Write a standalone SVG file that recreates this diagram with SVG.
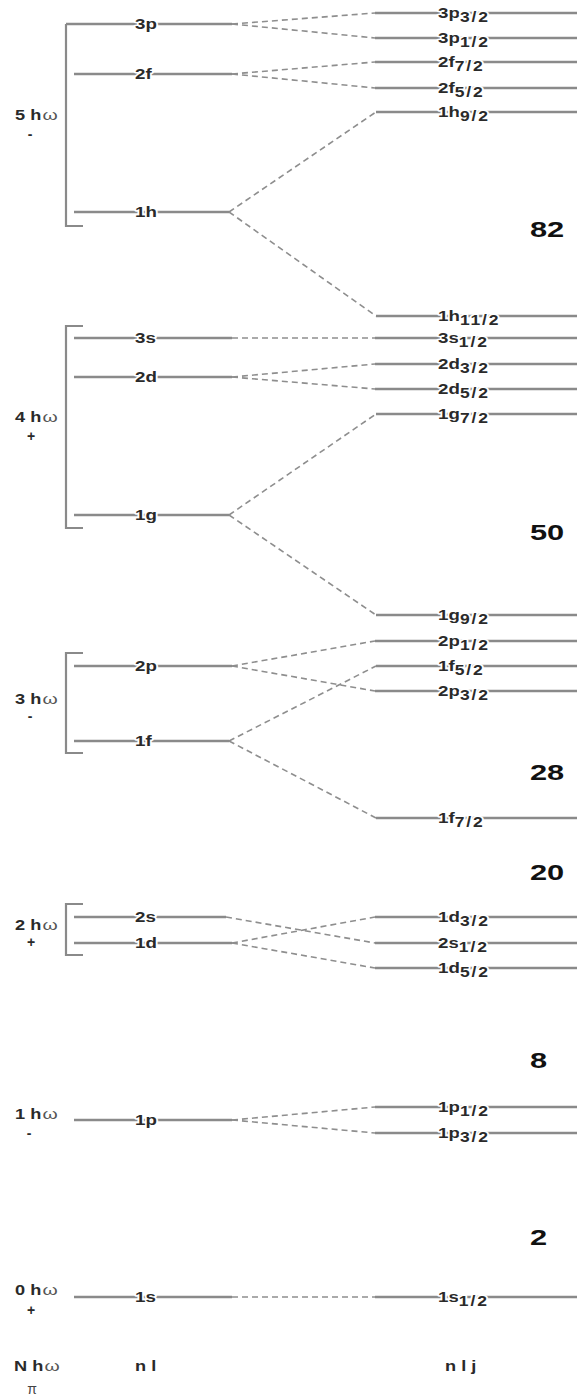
<svg xmlns="http://www.w3.org/2000/svg" width="577" height="1399" viewBox="0 0 577 1399">
<style>
.lvl{stroke:#8a8a8a;stroke-width:2.5;fill:none}
.br{stroke:#8a8a8a;stroke-width:2.2;fill:none}
.cn{stroke:#8e8e8e;stroke-width:1.6;stroke-dasharray:6 4;fill:none}
.lb{font-family:"Liberation Sans",Arial,sans-serif;font-weight:bold;font-size:15px;fill:#2a2a2a;stroke:#fff;stroke-width:3;paint-order:stroke;stroke-linejoin:round}
.sub{font-size:14px;letter-spacing:1.5px}
.gl{font-family:"Liberation Sans",Arial,sans-serif;font-weight:bold;font-size:14px;fill:#2a2a2a}
.om{font-weight:normal;font-size:15px;fill:#555}
.sg{font-family:"Liberation Sans",Arial,sans-serif;font-weight:bold;font-size:14px;fill:#2a2a2a;text-anchor:middle}
.pi{font-family:"Liberation Sans",Arial,sans-serif;font-weight:normal;font-size:14px;fill:#444;text-anchor:middle}
.mg{font-family:"Liberation Sans",Arial,sans-serif;font-weight:bold;font-size:22px;fill:#111}
</style>
<rect width="577" height="1399" fill="#fff"/>

<g id="connectors">
<line class="cn" x1="232" y1="24" x2="375" y2="13"/>
<line class="cn" x1="232" y1="24" x2="375" y2="38"/>
<line class="cn" x1="232" y1="74" x2="375" y2="62"/>
<line class="cn" x1="232" y1="74" x2="375" y2="88"/>
<line class="cn" x1="229" y1="212" x2="376" y2="112"/>
<line class="cn" x1="229" y1="212" x2="376" y2="316"/>
<line class="cn" x1="232" y1="338" x2="375" y2="338"/>
<line class="cn" x1="232" y1="377" x2="375" y2="364"/>
<line class="cn" x1="232" y1="377" x2="375" y2="389"/>
<line class="cn" x1="229" y1="515" x2="376" y2="414"/>
<line class="cn" x1="229" y1="515" x2="376" y2="615"/>
<line class="cn" x1="232" y1="666" x2="375" y2="641"/>
<line class="cn" x1="232" y1="666" x2="375" y2="691"/>
<line class="cn" x1="229" y1="741" x2="376" y2="666"/>
<line class="cn" x1="229" y1="741" x2="376" y2="818"/>
<line class="cn" x1="226" y1="917" x2="375" y2="943"/>
<line class="cn" x1="232" y1="943" x2="375" y2="917"/>
<line class="cn" x1="232" y1="943" x2="375" y2="968"/>
<line class="cn" x1="232" y1="1120" x2="375" y2="1107"/>
<line class="cn" x1="232" y1="1120" x2="375" y2="1133"/>
<line class="cn" x1="232" y1="1297" x2="375" y2="1297"/>
</g>

<g id="shell-5">
<path class="br" d="M66,24 V226 H83"/>
<text class="gl" transform="translate(15,120) scale(1.3,1)">5 h<tspan class="om" dx="1">ω</tspan></text>
<text class="sg" x="30" y="139">-</text>
</g>
<g id="shell-4">
<path class="br" d="M83,326 H66 V528 H83"/>
<text class="gl" transform="translate(15,422) scale(1.3,1)">4 h<tspan class="om" dx="1">ω</tspan></text>
<text class="sg" x="31" y="441">+</text>
</g>
<g id="shell-3">
<path class="br" d="M83,653 H66 V753 H83"/>
<text class="gl" transform="translate(15,704) scale(1.3,1)">3 h<tspan class="om" dx="1">ω</tspan></text>
<text class="sg" x="30" y="721">-</text>
</g>
<g id="shell-2">
<path class="br" d="M83,904 H66 V955 H83"/>
<text class="gl" transform="translate(15,930) scale(1.3,1)">2 h<tspan class="om" dx="1">ω</tspan></text>
<text class="sg" x="31" y="947">+</text>
</g>
<g id="shell-1">
<text class="gl" transform="translate(15,1119) scale(1.3,1)">1 h<tspan class="om" dx="1">ω</tspan></text>
<text class="sg" x="29" y="1138">-</text>
</g>
<g id="shell-0">
<text class="gl" transform="translate(15,1295) scale(1.3,1)">0 h<tspan class="om" dx="1">ω</tspan></text>
<text class="sg" x="31" y="1315">+</text>
</g>

<g id="l-3p"><line class="lvl" x1="66" y1="24" x2="232" y2="24"/><text class="lb" transform="translate(135,29) scale(1.25,1)">3p</text></g>
<g id="l-2f"><line class="lvl" x1="74" y1="74" x2="232" y2="74"/><text class="lb" transform="translate(135,79) scale(1.25,1)">2f</text></g>
<g id="l-1h"><line class="lvl" x1="74" y1="212" x2="229" y2="212"/><text class="lb" transform="translate(135,217) scale(1.25,1)">1h</text></g>
<g id="l-3s"><line class="lvl" x1="74" y1="338" x2="232" y2="338"/><text class="lb" transform="translate(135,343) scale(1.25,1)">3s</text></g>
<g id="l-2d"><line class="lvl" x1="74" y1="377" x2="232" y2="377"/><text class="lb" transform="translate(135,382) scale(1.25,1)">2d</text></g>
<g id="l-1g"><line class="lvl" x1="74" y1="515" x2="229" y2="515"/><text class="lb" transform="translate(135,520) scale(1.25,1)">1g</text></g>
<g id="l-2p"><line class="lvl" x1="74" y1="666" x2="232" y2="666"/><text class="lb" transform="translate(135,671) scale(1.25,1)">2p</text></g>
<g id="l-1f"><line class="lvl" x1="74" y1="741" x2="229" y2="741"/><text class="lb" transform="translate(135,746) scale(1.25,1)">1f</text></g>
<g id="l-2s"><line class="lvl" x1="74" y1="917" x2="226" y2="917"/><text class="lb" transform="translate(135,922) scale(1.25,1)">2s</text></g>
<g id="l-1d"><line class="lvl" x1="74" y1="943" x2="232" y2="943"/><text class="lb" transform="translate(135,948) scale(1.25,1)">1d</text></g>
<g id="l-1p"><line class="lvl" x1="74" y1="1120" x2="232" y2="1120"/><text class="lb" transform="translate(135,1125) scale(1.25,1)">1p</text></g>
<g id="l-1s"><line class="lvl" x1="74" y1="1297" x2="232" y2="1297"/><text class="lb" transform="translate(135,1302) scale(1.25,1)">1s</text></g>

<g id="r-3p32"><line class="lvl" x1="375" y1="13" x2="577" y2="13"/><text class="lb" transform="translate(438,18) scale(1.25,1)">3p<tspan class="sub" dy="4">3/2</tspan></text></g>
<g id="r-3p12"><line class="lvl" x1="375" y1="38" x2="577" y2="38"/><text class="lb" transform="translate(438,43) scale(1.25,1)">3p<tspan class="sub" dy="4">1/2</tspan></text></g>
<g id="r-2f72"><line class="lvl" x1="375" y1="62" x2="577" y2="62"/><text class="lb" transform="translate(438,67) scale(1.25,1)">2f<tspan class="sub" dy="4">7/2</tspan></text></g>
<g id="r-2f52"><line class="lvl" x1="375" y1="88" x2="577" y2="88"/><text class="lb" transform="translate(438,93) scale(1.25,1)">2f<tspan class="sub" dy="4">5/2</tspan></text></g>
<g id="r-1h92"><line class="lvl" x1="376" y1="112" x2="577" y2="112"/><text class="lb" transform="translate(438,117) scale(1.25,1)">1h<tspan class="sub" dy="4">9/2</tspan></text></g>
<g id="r-1h112"><line class="lvl" x1="376" y1="316" x2="577" y2="316"/><text class="lb" transform="translate(438,321) scale(1.25,1)">1h<tspan class="sub" dy="4">11/2</tspan></text></g>
<g id="r-3s12"><line class="lvl" x1="375" y1="338" x2="577" y2="338"/><text class="lb" transform="translate(438,343) scale(1.25,1)">3s<tspan class="sub" dy="4">1/2</tspan></text></g>
<g id="r-2d32"><line class="lvl" x1="375" y1="364" x2="577" y2="364"/><text class="lb" transform="translate(438,369) scale(1.25,1)">2d<tspan class="sub" dy="4">3/2</tspan></text></g>
<g id="r-2d52"><line class="lvl" x1="375" y1="389" x2="577" y2="389"/><text class="lb" transform="translate(438,394) scale(1.25,1)">2d<tspan class="sub" dy="4">5/2</tspan></text></g>
<g id="r-1g72"><line class="lvl" x1="376" y1="414" x2="577" y2="414"/><text class="lb" transform="translate(438,419) scale(1.25,1)">1g<tspan class="sub" dy="4">7/2</tspan></text></g>
<g id="r-1g92"><line class="lvl" x1="376" y1="615" x2="577" y2="615"/><text class="lb" transform="translate(438,620) scale(1.25,1)">1g<tspan class="sub" dy="4">9/2</tspan></text></g>
<g id="r-2p12"><line class="lvl" x1="375" y1="641" x2="577" y2="641"/><text class="lb" transform="translate(438,646) scale(1.25,1)">2p<tspan class="sub" dy="4">1/2</tspan></text></g>
<g id="r-1f52"><line class="lvl" x1="376" y1="666" x2="577" y2="666"/><text class="lb" transform="translate(438,671) scale(1.25,1)">1f<tspan class="sub" dy="4">5/2</tspan></text></g>
<g id="r-2p32"><line class="lvl" x1="375" y1="691" x2="577" y2="691"/><text class="lb" transform="translate(438,696) scale(1.25,1)">2p<tspan class="sub" dy="4">3/2</tspan></text></g>
<g id="r-1f72"><line class="lvl" x1="376" y1="818" x2="577" y2="818"/><text class="lb" transform="translate(438,823) scale(1.25,1)">1f<tspan class="sub" dy="4">7/2</tspan></text></g>
<g id="r-1d32"><line class="lvl" x1="375" y1="917" x2="577" y2="917"/><text class="lb" transform="translate(438,922) scale(1.25,1)">1d<tspan class="sub" dy="4">3/2</tspan></text></g>
<g id="r-2s12"><line class="lvl" x1="375" y1="943" x2="577" y2="943"/><text class="lb" transform="translate(438,948) scale(1.25,1)">2s<tspan class="sub" dy="4">1/2</tspan></text></g>
<g id="r-1d52"><line class="lvl" x1="375" y1="968" x2="577" y2="968"/><text class="lb" transform="translate(438,973) scale(1.25,1)">1d<tspan class="sub" dy="4">5/2</tspan></text></g>
<g id="r-1p12"><line class="lvl" x1="375" y1="1107" x2="577" y2="1107"/><text class="lb" transform="translate(438,1112) scale(1.25,1)">1p<tspan class="sub" dy="4">1/2</tspan></text></g>
<g id="r-1p32"><line class="lvl" x1="375" y1="1133" x2="577" y2="1133"/><text class="lb" transform="translate(438,1138) scale(1.25,1)">1p<tspan class="sub" dy="4">3/2</tspan></text></g>
<g id="r-1s12"><line class="lvl" x1="375" y1="1297" x2="577" y2="1297"/><text class="lb" transform="translate(438,1302) scale(1.25,1)">1s<tspan class="sub" dy="4">1/2</tspan></text></g>

<g id="magic">
<text class="mg" transform="translate(530,237) scale(1.4,1)">82</text>
<text class="mg" transform="translate(530,540) scale(1.4,1)">50</text>
<text class="mg" transform="translate(530,780) scale(1.4,1)">28</text>
<text class="mg" transform="translate(530,880) scale(1.4,1)">20</text>
<text class="mg" transform="translate(530,1068) scale(1.4,1)">8</text>
<text class="mg" transform="translate(530,1245) scale(1.4,1)">2</text>
</g>

<g id="headers">
<text class="gl" transform="translate(14,1371) scale(1.3,1)">N h<tspan class="om" dx="1">ω</tspan></text>
<text class="pi" x="32" y="1394">π</text>
<text class="gl" transform="translate(135,1371) scale(1.3,1)">n l</text>
<text class="gl" transform="translate(445,1371) scale(1.3,1)">n l j</text>
</g>
</svg>
